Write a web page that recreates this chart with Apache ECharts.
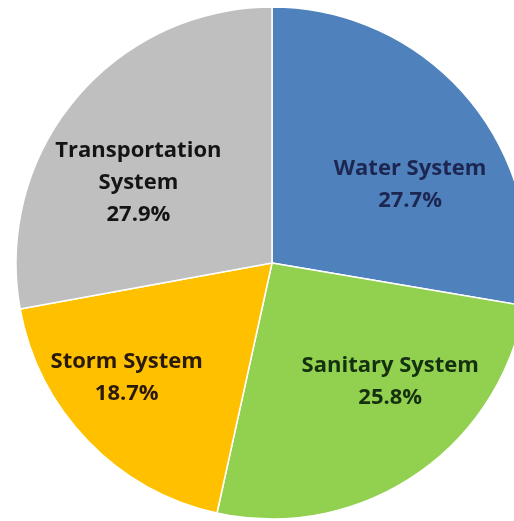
<!DOCTYPE html>
<html>
<head>
<meta charset="utf-8">
<style>
  html, body { margin: 0; padding: 0; background: #ffffff; }
  #chart { width: 514px; height: 521px; }
</style>
<script src="https://cdn.jsdelivr.net/npm/echarts@6/dist/echarts.min.js"></script>
</head>
<body>
<div id="chart"></div>
<script>
// Share of the total by infrastructure system (percent)
const categories = ['Water System', 'Sanitary System', 'Storm System', 'Transportation System'];
const shares = [27.7, 25.8, 18.7, 27.9];
const sliceColors = ['#4F81BD', '#92D050', '#FFC000', '#BFBFBF'];
const labelColors = ['#1c2650', '#15300f', '#2a1a0c', '#141414'];
// label nudges away from the default mid-radius anchor
const labelOffsets = [[38, 6], [45, 10], [-51, 24], [-33, 4]];

const chart = echarts.init(document.getElementById('chart'), null, { renderer: 'canvas' });

const data = categories.map((name, i) => ({
  name: name,
  value: shares[i],
  itemStyle: { color: sliceColors[i] },
  label: { color: labelColors[i], offset: labelOffsets[i] }
}));

chart.setOption({
  animation: false,
  backgroundColor: '#ffffff',
  series: [{
    type: 'pie',
    center: [272, 263],
    radius: [0, 256],
    startAngle: 90,
    clockwise: true,
    avoidLabelOverlap: false,
    itemStyle: { borderColor: '#ffffff', borderWidth: 1.5 },
    label: {
      show: true,
      position: 'inside',
      fontFamily: 'Open Sans',
      fontWeight: 'bold',
      fontSize: 22,
      lineHeight: 32,
      align: 'center',
      formatter: p => (p.name.length > 15 ? p.name.replace(' ', '\n') : p.name) + '\n' + p.value + '%'
    },
    labelLine: { show: false },
    emphasis: { disabled: true },
    data: data
  }]
});
</script>
</body>
</html>
